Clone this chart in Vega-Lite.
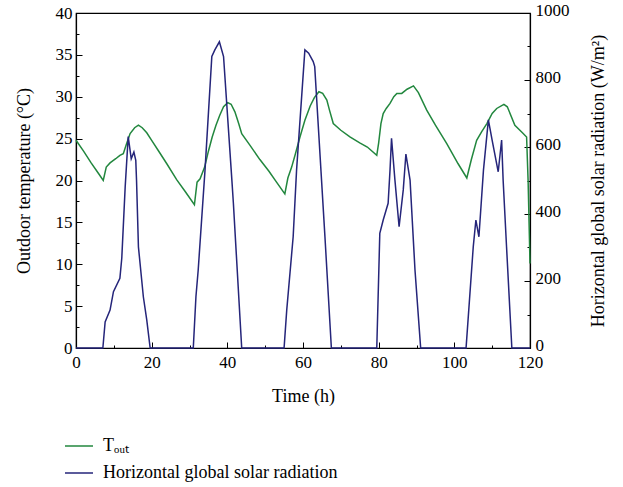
{
  "$schema": "https://vega.github.io/schema/vega-lite/v6.json",
  "width": 454,
  "height": 335,
  "autosize": "none",
  "padding": {"left": 76, "top": 13, "right": 93, "bottom": 139},
  "background": "white",
  "config": {
    "font": "Liberation Serif",
    "view": {"stroke": "black", "strokeWidth": 1.2},
    "axis": {
      "domainColor": "black",
      "domainWidth": 1.2,
      "tickColor": "black",
      "tickWidth": 1,
      "labelColor": "black",
      "titleColor": "black",
      "labelFont": "Liberation Serif",
      "titleFont": "Liberation Serif",
      "labelFontSize": 17,
      "titleFontSize": 18,
      "titleFontWeight": "normal",
      "grid": false,
      "labelFlush": false,
      "labelOverlap": false
    },
    "legend": {
      "labelFont": "Liberation Serif",
      "labelFontSize": 18,
      "labelColor": "black"
    }
  },
  "data": {
    "values": [
      {"t": 0, "s": "T", "v": 24.8},
      {"t": 2, "s": "T", "v": 23.5},
      {"t": 4, "s": "T", "v": 22.1},
      {"t": 6, "s": "T", "v": 20.8},
      {"t": 7.2, "s": "T", "v": 20.0},
      {"t": 8, "s": "T", "v": 21.6},
      {"t": 9, "s": "T", "v": 22.1},
      {"t": 10.5, "s": "T", "v": 22.6},
      {"t": 11.6, "s": "T", "v": 23.0},
      {"t": 12.5, "s": "T", "v": 23.2},
      {"t": 13.3, "s": "T", "v": 24.3},
      {"t": 14.3, "s": "T", "v": 25.6},
      {"t": 15.5, "s": "T", "v": 26.3},
      {"t": 16.5, "s": "T", "v": 26.6},
      {"t": 17.5, "s": "T", "v": 26.3},
      {"t": 18.7, "s": "T", "v": 25.7},
      {"t": 20, "s": "T", "v": 24.8},
      {"t": 22, "s": "T", "v": 23.4},
      {"t": 24, "s": "T", "v": 22.0},
      {"t": 26.6, "s": "T", "v": 20.1},
      {"t": 29, "s": "T", "v": 18.6},
      {"t": 31.3, "s": "T", "v": 17.1},
      {"t": 32, "s": "T", "v": 19.8},
      {"t": 32.8, "s": "T", "v": 20.2},
      {"t": 34, "s": "T", "v": 21.6},
      {"t": 35, "s": "T", "v": 23.5},
      {"t": 36, "s": "T", "v": 25.2},
      {"t": 37, "s": "T", "v": 26.6},
      {"t": 38, "s": "T", "v": 27.8},
      {"t": 39, "s": "T", "v": 28.8},
      {"t": 40.1, "s": "T", "v": 29.3},
      {"t": 41, "s": "T", "v": 29.1},
      {"t": 42, "s": "T", "v": 28.2},
      {"t": 43, "s": "T", "v": 26.8},
      {"t": 43.8, "s": "T", "v": 25.6},
      {"t": 46, "s": "T", "v": 24.2},
      {"t": 48.6, "s": "T", "v": 22.5},
      {"t": 51, "s": "T", "v": 21.1},
      {"t": 53, "s": "T", "v": 19.8},
      {"t": 55.2, "s": "T", "v": 18.4},
      {"t": 56, "s": "T", "v": 20.3},
      {"t": 57, "s": "T", "v": 21.6},
      {"t": 58, "s": "T", "v": 23.2},
      {"t": 59.2, "s": "T", "v": 25.2},
      {"t": 60.5, "s": "T", "v": 27.2},
      {"t": 61.9, "s": "T", "v": 28.9},
      {"t": 63, "s": "T", "v": 29.9},
      {"t": 64.2, "s": "T", "v": 30.6},
      {"t": 65.2, "s": "T", "v": 30.4},
      {"t": 66.3, "s": "T", "v": 29.6},
      {"t": 67, "s": "T", "v": 28.4},
      {"t": 68, "s": "T", "v": 26.8},
      {"t": 70, "s": "T", "v": 26.0},
      {"t": 72.4, "s": "T", "v": 25.2},
      {"t": 75, "s": "T", "v": 24.5},
      {"t": 77, "s": "T", "v": 24.0},
      {"t": 79.5, "s": "T", "v": 23.0},
      {"t": 80, "s": "T", "v": 24.5},
      {"t": 80.6, "s": "T", "v": 26.8},
      {"t": 81.2, "s": "T", "v": 28.0},
      {"t": 82, "s": "T", "v": 28.6},
      {"t": 83, "s": "T", "v": 29.2},
      {"t": 84, "s": "T", "v": 30.0},
      {"t": 84.8, "s": "T", "v": 30.4},
      {"t": 86.1, "s": "T", "v": 30.4},
      {"t": 87.5, "s": "T", "v": 30.9},
      {"t": 89.2, "s": "T", "v": 31.3},
      {"t": 90.5, "s": "T", "v": 30.5},
      {"t": 92.7, "s": "T", "v": 28.4},
      {"t": 95, "s": "T", "v": 26.6},
      {"t": 98, "s": "T", "v": 24.4},
      {"t": 101, "s": "T", "v": 22.0},
      {"t": 103.3, "s": "T", "v": 20.3},
      {"t": 104.5, "s": "T", "v": 22.5},
      {"t": 105.9, "s": "T", "v": 24.8},
      {"t": 107.2, "s": "T", "v": 25.8},
      {"t": 108.6, "s": "T", "v": 26.8},
      {"t": 110, "s": "T", "v": 28.0},
      {"t": 111.2, "s": "T", "v": 28.6},
      {"t": 113.1, "s": "T", "v": 29.1},
      {"t": 114, "s": "T", "v": 28.8},
      {"t": 116, "s": "T", "v": 26.6},
      {"t": 118, "s": "T", "v": 25.7},
      {"t": 119.1, "s": "T", "v": 25.2},
      {"t": 119.5, "s": "T", "v": 20.0},
      {"t": 120, "s": "T", "v": 10.1},
      {"t": 0, "s": "R", "v": 0},
      {"t": 7.1, "s": "R", "v": 0},
      {"t": 7.7, "s": "R", "v": 78},
      {"t": 9, "s": "R", "v": 113},
      {"t": 9.9, "s": "R", "v": 168},
      {"t": 11.6, "s": "R", "v": 208},
      {"t": 12.1, "s": "R", "v": 268},
      {"t": 13, "s": "R", "v": 481},
      {"t": 13.8, "s": "R", "v": 631},
      {"t": 14.6, "s": "R", "v": 565},
      {"t": 15.3, "s": "R", "v": 585},
      {"t": 15.8, "s": "R", "v": 560},
      {"t": 16, "s": "R", "v": 501},
      {"t": 16.5, "s": "R", "v": 302},
      {"t": 17.8, "s": "R", "v": 153},
      {"t": 18.7, "s": "R", "v": 84},
      {"t": 19.6, "s": "R", "v": 0},
      {"t": 31, "s": "R", "v": 0},
      {"t": 31.7, "s": "R", "v": 153},
      {"t": 32.3, "s": "R", "v": 233},
      {"t": 34.1, "s": "R", "v": 531},
      {"t": 35.9, "s": "R", "v": 870},
      {"t": 36.7, "s": "R", "v": 890},
      {"t": 37.9, "s": "R", "v": 914},
      {"t": 39, "s": "R", "v": 870},
      {"t": 41.2, "s": "R", "v": 501},
      {"t": 41.6, "s": "R", "v": 432},
      {"t": 43.8, "s": "R", "v": 0},
      {"t": 55, "s": "R", "v": 0},
      {"t": 55.7, "s": "R", "v": 113},
      {"t": 57.4, "s": "R", "v": 332},
      {"t": 58.3, "s": "R", "v": 531},
      {"t": 60.5, "s": "R", "v": 890},
      {"t": 61.5, "s": "R", "v": 880},
      {"t": 62.7, "s": "R", "v": 855},
      {"t": 63.1, "s": "R", "v": 840},
      {"t": 64.9, "s": "R", "v": 501},
      {"t": 65.8, "s": "R", "v": 332},
      {"t": 67.5, "s": "R", "v": 0},
      {"t": 79.5, "s": "R", "v": 0},
      {"t": 80.3, "s": "R", "v": 342},
      {"t": 81.2, "s": "R", "v": 382},
      {"t": 82.5, "s": "R", "v": 432},
      {"t": 83, "s": "R", "v": 531},
      {"t": 83.4, "s": "R", "v": 626},
      {"t": 84.3, "s": "R", "v": 501},
      {"t": 85.4, "s": "R", "v": 362},
      {"t": 86.5, "s": "R", "v": 472},
      {"t": 87.2, "s": "R", "v": 579},
      {"t": 88.3, "s": "R", "v": 501},
      {"t": 89.6, "s": "R", "v": 233},
      {"t": 91.1, "s": "R", "v": 0},
      {"t": 103.1, "s": "R", "v": 0},
      {"t": 105, "s": "R", "v": 302},
      {"t": 105.7, "s": "R", "v": 382},
      {"t": 106.5, "s": "R", "v": 332},
      {"t": 107.7, "s": "R", "v": 531},
      {"t": 109, "s": "R", "v": 681},
      {"t": 110, "s": "R", "v": 620},
      {"t": 111.6, "s": "R", "v": 526},
      {"t": 112.5, "s": "R", "v": 621},
      {"t": 112.9, "s": "R", "v": 501},
      {"t": 113.8, "s": "R", "v": 302},
      {"t": 115.2, "s": "R", "v": 0},
      {"t": 120, "s": "R", "v": 0}
    ]
  },
  "encoding": {
    "x": {
      "field": "t",
      "type": "quantitative",
      "scale": {"domain": [0, 120], "nice": false, "zero": false},
      "axis": {
        "title": "Time (h)",
        "titleFontWeight": "normal",
        "values": [0, 10, 20, 30, 40, 50, 60, 70, 80, 90, 100, 110, 120],
        "labelExpr": "datum.value % 20 === 0 ? datum.label : ''",
        "tickSize": {"condition": {"test": "datum.value % 20 === 0", "value": -6}, "value": -3},
        "labelPadding": 12,
        "titlePadding": 14
      }
    },
    "color": {
      "field": "s",
      "type": "nominal",
      "scale": {"domain": ["T", "R"], "range": ["#22873e", "#25257a"]},
      "legend": {
        "title": null,
        "orient": "none",
        "legendX": -12,
        "legendY": 418,
        "symbolType": "stroke",
        "symbolSize": 784,
        "symbolStrokeWidth": 1.5,
        "labelOffset": 9,
        "labelLimit": 0,
        "rowPadding": 3,
        "labelExpr": "datum.value === 'T' ? 'Tₒᵤₜ' : 'Horizontal global solar radiation'"
      }
    }
  },
  "layer": [
    {
      "transform": [{"filter": "datum.s === 'T'"}],
      "mark": {"type": "line", "strokeWidth": 1.5},
      "encoding": {
        "y": {
          "field": "v",
          "type": "quantitative",
          "scale": {"domain": [0, 40], "nice": false},
          "axis": {
            "orient": "left",
            "title": "Outdoor temperature (°C)",
            "titleFontWeight": "normal",
            "values": [0, 2.5, 5, 7.5, 10, 12.5, 15, 17.5, 20, 22.5, 25, 27.5, 30, 32.5, 35, 37.5, 40],
            "labelExpr": "datum.value % 5 === 0 ? datum.label : ''",
            "tickSize": {"condition": {"test": "datum.value % 5 === 0", "value": -6}, "value": -3},
            "labelPadding": 10,
            "titlePadding": 22
          }
        }
      }
    },
    {
      "transform": [{"filter": "datum.s === 'R'"}],
      "mark": {"type": "line", "strokeWidth": 1.5},
      "encoding": {
        "y": {
          "field": "v",
          "type": "quantitative",
          "scale": {"domain": [0, 1000], "nice": false},
          "axis": {
            "orient": "right",
            "title": "Horizontal global solar radiation (W/m²)",
            "titleFontWeight": "normal",
            "titleAngle": 270,
            "format": "d",
            "values": [0, 100, 200, 300, 400, 500, 600, 700, 800, 900, 1000],
            "labelExpr": "datum.value % 200 === 0 ? datum.label : ''",
            "tickSize": {"condition": {"test": "datum.value % 200 === 0", "value": -6}, "value": -3},
            "labelPadding": 11,
            "labelOffset": -3,
            "titlePadding": 38
          }
        }
      }
    }
  ],
  "resolve": {"scale": {"y": "independent"}}
}
